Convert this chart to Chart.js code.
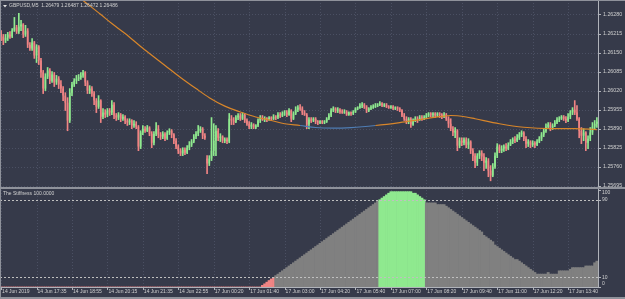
<!DOCTYPE html>
<html><head><meta charset="utf-8">
<script src="https://cdn.jsdelivr.net/npm/chart.js@4.4.1/dist/chart.umd.min.js"></script>
<style>
html,body{margin:0;padding:0;background:#363a4a;}
body{width:625px;height:299px;overflow:hidden;position:relative}
canvas{position:absolute;left:0;display:block}
#main{top:0}
#ind{top:189px}
</style></head><body>
<canvas id="main" width="625" height="189"></canvas>
<canvas id="ind" width="625" height="110"></canvas>
<script>
// ---------------- DATA ----------------
const headerText = "GBPUSD,M5  1.26479 1.26487 1.26472 1.26486";
const indicatorTitle = "The Stiffness 100.0000";
const tickLabels = ["14 Jun 2019","14 Jun 17:35","14 Jun 18:55","14 Jun 20:15","14 Jun 21:35","14 Jun 22:55","17 Jun 00:20","17 Jun 01:40","17 Jun 03:00","17 Jun 04:20","17 Jun 05:40","17 Jun 07:00","17 Jun 08:20","17 Jun 09:40","17 Jun 11:00","17 Jun 12:20","17 Jun 13:40"];
const TICK_EVERY = 16;
const priceTicks = [1.26280,1.26215,1.26150,1.26085,1.26020,1.25955,1.25890,1.25825,1.25760,1.25695];
const PRICE_MIN = 1.256909, PRICE_MAX = 1.263295;
const levelValues = [10, 90];
const levelLabels = [0, 10, 90, 100];

const opens = [
1.26215,1.26205,1.26191,1.26201,1.26212,1.26205,1.26225,1.26236,1.26222,1.26239,
1.26246,1.26212,1.26225,1.26177,1.26164,1.26184,1.26140,1.26171,1.26123,1.26082,
1.26027,1.26068,1.26089,1.26054,1.26075,1.26048,1.26061,1.26041,1.26027,1.26003,
1.25979,1.25918,1.26013,1.26041,1.26054,1.26061,1.26065,1.26072,1.26082,1.26048,
1.26020,1.26027,1.26010,1.25986,1.25965,1.25986,1.25931,1.25945,1.25938,1.25952,
1.25945,1.25972,1.25935,1.25928,1.25938,1.25924,1.25931,1.25918,1.25911,1.25918,
1.25901,1.25907,1.25897,1.25829,1.25877,1.25890,1.25883,1.25894,1.25873,1.25842,
1.25873,1.25890,1.25870,1.25863,1.25873,1.25856,1.25877,1.25883,1.25870,1.25849,
1.25829,1.25815,1.25805,1.25818,1.25808,1.25825,1.25835,1.25846,1.25863,1.25873,
1.25883,1.25890,1.25866,1.25788,1.25771,1.25788,1.25815,1.25849,1.25883,1.25859,
1.25863,1.25849,1.25853,1.25846,1.25924,1.25918,1.25914,1.25928,1.25935,1.25924,
1.25938,1.25918,1.25907,1.25897,1.25904,1.25894,1.25901,1.25918,1.25928,1.25921,
1.25924,1.25921,1.25928,1.25924,1.25931,1.25928,1.25938,1.25935,1.25942,1.25945,
1.25938,1.25952,1.25924,1.25942,1.25955,1.25962,1.25959,1.25945,1.25938,1.25904,
1.25921,1.25918,1.25924,1.25914,1.25911,1.25914,1.25911,1.25914,1.25924,1.25935,
1.25952,1.25959,1.25952,1.25955,1.25948,1.25945,1.25948,1.25938,1.25945,1.25942,
1.25948,1.25959,1.25962,1.25969,1.25972,1.25965,1.25952,1.25959,1.25962,1.25965,
1.25969,1.25972,1.25976,1.25969,1.25972,1.25965,1.25962,1.25965,1.25959,1.25962,
1.25959,1.25952,1.25935,1.25924,1.25914,1.25924,1.25904,1.25918,1.25924,1.25921,
1.25928,1.25924,1.25928,1.25935,1.25942,1.25938,1.25942,1.25935,1.25942,1.25938,
1.25931,1.25938,1.25924,1.25907,1.25890,1.25877,1.25883,1.25832,1.25849,1.25842,
1.25853,1.25835,1.25846,1.25815,1.25798,1.25774,1.25798,1.25808,1.25795,1.25774,
1.25781,1.25747,1.25730,1.25760,1.25798,1.25829,1.25815,1.25822,1.25829,1.25822,
1.25835,1.25846,1.25853,1.25849,1.25859,1.25870,1.25877,1.25856,1.25839,1.25846,
1.25835,1.25842,1.25835,1.25846,1.25856,1.25870,1.25883,1.25897,1.25904,1.25894,
1.25901,1.25911,1.25921,1.25924,1.25931,1.25924,1.25918,1.25931,1.25945,1.25955,
1.25945,1.25924,1.25883,1.25866,1.25877,1.25842,1.25856,1.25877,1.25897,1.25907
];
const closes = [
1.26205,1.26191,1.26201,1.26212,1.26205,1.26225,1.26236,1.26222,1.26239,1.26246,
1.26212,1.26225,1.26177,1.26164,1.26184,1.26140,1.26171,1.26123,1.26082,1.26027,
1.26068,1.26089,1.26054,1.26075,1.26048,1.26061,1.26041,1.26027,1.26003,1.25979,
1.25918,1.26013,1.26041,1.26054,1.26061,1.26065,1.26072,1.26082,1.26048,1.26020,
1.26027,1.26010,1.25986,1.25965,1.25986,1.25931,1.25945,1.25938,1.25952,1.25945,
1.25972,1.25935,1.25928,1.25938,1.25924,1.25931,1.25918,1.25911,1.25918,1.25901,
1.25907,1.25897,1.25829,1.25877,1.25890,1.25883,1.25894,1.25873,1.25842,1.25873,
1.25890,1.25870,1.25863,1.25873,1.25856,1.25877,1.25883,1.25870,1.25849,1.25829,
1.25815,1.25805,1.25818,1.25808,1.25825,1.25835,1.25846,1.25863,1.25873,1.25883,
1.25890,1.25866,1.25859,1.25771,1.25788,1.25815,1.25849,1.25883,1.25859,1.25863,
1.25849,1.25853,1.25846,1.25924,1.25918,1.25914,1.25928,1.25935,1.25924,1.25938,
1.25918,1.25907,1.25897,1.25904,1.25894,1.25901,1.25918,1.25928,1.25921,1.25924,
1.25921,1.25928,1.25924,1.25931,1.25928,1.25938,1.25935,1.25942,1.25945,1.25938,
1.25952,1.25924,1.25942,1.25955,1.25962,1.25959,1.25945,1.25938,1.25904,1.25921,
1.25918,1.25924,1.25914,1.25911,1.25914,1.25911,1.25914,1.25924,1.25935,1.25952,
1.25959,1.25952,1.25955,1.25948,1.25945,1.25948,1.25938,1.25945,1.25942,1.25948,
1.25959,1.25962,1.25969,1.25972,1.25965,1.25952,1.25959,1.25962,1.25965,1.25969,
1.25972,1.25976,1.25969,1.25972,1.25965,1.25962,1.25965,1.25959,1.25962,1.25959,
1.25952,1.25935,1.25924,1.25914,1.25924,1.25904,1.25918,1.25924,1.25921,1.25928,
1.25924,1.25928,1.25935,1.25942,1.25938,1.25942,1.25935,1.25942,1.25938,1.25931,
1.25938,1.25924,1.25907,1.25890,1.25877,1.25883,1.25832,1.25849,1.25842,1.25853,
1.25835,1.25846,1.25815,1.25798,1.25774,1.25798,1.25808,1.25795,1.25774,1.25781,
1.25747,1.25730,1.25760,1.25798,1.25829,1.25815,1.25822,1.25829,1.25822,1.25835,
1.25846,1.25853,1.25849,1.25859,1.25870,1.25877,1.25856,1.25839,1.25846,1.25835,
1.25842,1.25835,1.25846,1.25856,1.25870,1.25883,1.25897,1.25904,1.25894,1.25901,
1.25911,1.25921,1.25924,1.25931,1.25924,1.25918,1.25931,1.25945,1.25955,1.25945,
1.25924,1.25883,1.25866,1.25877,1.25842,1.25856,1.25877,1.25897,1.25907,1.25914
];
const highs = [
1.26225,1.26212,1.26212,1.26219,1.26222,1.26232,1.26270,1.26243,1.26284,1.26260,
1.26249,1.26243,1.26232,1.26184,1.26198,1.26188,1.26177,1.26174,1.26130,1.26089,
1.26078,1.26099,1.26095,1.26085,1.26082,1.26072,1.26068,1.26054,1.26034,1.26013,
1.25996,1.26027,1.26048,1.26061,1.26072,1.26075,1.26082,1.26089,1.26085,1.26054,
1.26037,1.26034,1.26017,1.25993,1.26003,1.25989,1.25959,1.25955,1.25959,1.25959,
1.25986,1.25979,1.25942,1.25945,1.25942,1.25938,1.25935,1.25924,1.25924,1.25921,
1.25918,1.25914,1.25901,1.25883,1.25901,1.25897,1.25901,1.25897,1.25880,1.25880,
1.25911,1.25901,1.25877,1.25880,1.25877,1.25883,1.25890,1.25887,1.25873,1.25856,
1.25835,1.25822,1.25825,1.25825,1.25832,1.25846,1.25853,1.25870,1.25880,1.25901,
1.25897,1.25894,1.25873,1.25798,1.25798,1.25928,1.25907,1.25901,1.25890,1.25873,
1.25866,1.25859,1.25859,1.25942,1.25935,1.25928,1.25935,1.25942,1.25942,1.25945,
1.25942,1.25924,1.25914,1.25911,1.25907,1.25904,1.25924,1.25935,1.25935,1.25931,
1.25928,1.25931,1.25931,1.25938,1.25935,1.25945,1.25945,1.25948,1.25952,1.25952,
1.25959,1.25955,1.25948,1.25965,1.25969,1.25972,1.25965,1.25952,1.25942,1.25928,
1.25928,1.25928,1.25928,1.25918,1.25918,1.25918,1.25918,1.25928,1.25942,1.25959,
1.25965,1.25962,1.25962,1.25959,1.25955,1.25955,1.25952,1.25948,1.25948,1.25952,
1.25962,1.25965,1.25976,1.25979,1.25976,1.25969,1.25962,1.25969,1.25972,1.25976,
1.25976,1.25983,1.25979,1.25976,1.25976,1.25969,1.25969,1.25969,1.25965,1.25965,
1.25962,1.25955,1.25942,1.25931,1.25928,1.25928,1.25924,1.25931,1.25931,1.25935,
1.25935,1.25935,1.25942,1.25945,1.25945,1.25945,1.25945,1.25945,1.25945,1.25942,
1.25945,1.25942,1.25931,1.25924,1.25897,1.25894,1.25887,1.25859,1.25859,1.25859,
1.25859,1.25856,1.25849,1.25822,1.25805,1.25805,1.25815,1.25815,1.25805,1.25791,
1.25788,1.25764,1.25771,1.25808,1.25839,1.25835,1.25832,1.25835,1.25839,1.25842,
1.25853,1.25859,1.25863,1.25870,1.25877,1.25883,1.25880,1.25863,1.25853,1.25849,
1.25849,1.25846,1.25853,1.25863,1.25877,1.25890,1.25907,1.25911,1.25911,1.25907,
1.25918,1.25928,1.25931,1.25935,1.25935,1.25931,1.25942,1.25952,1.25962,1.25986,
1.25969,1.25928,1.25894,1.25890,1.25880,1.25866,1.25894,1.25911,1.25918,1.25928
];
const lows = [
1.26191,1.26177,1.26184,1.26191,1.26198,1.26201,1.26222,1.26215,1.26215,1.26225,
1.26201,1.26205,1.26167,1.26157,1.26157,1.26130,1.26116,1.26109,1.26065,1.26010,
1.26020,1.26061,1.26044,1.26048,1.26034,1.26041,1.26027,1.26013,1.25986,1.25952,
1.25883,1.25911,1.26003,1.26034,1.26044,1.26054,1.26058,1.26065,1.26037,1.26010,
1.26010,1.26000,1.25972,1.25945,1.25959,1.25911,1.25924,1.25928,1.25931,1.25935,
1.25938,1.25924,1.25918,1.25921,1.25914,1.25918,1.25907,1.25901,1.25904,1.25890,
1.25894,1.25890,1.25815,1.25822,1.25870,1.25877,1.25880,1.25866,1.25825,1.25835,
1.25866,1.25859,1.25853,1.25856,1.25849,1.25853,1.25870,1.25859,1.25839,1.25822,
1.25805,1.25798,1.25798,1.25801,1.25805,1.25818,1.25829,1.25842,1.25856,1.25866,
1.25877,1.25856,1.25853,1.25736,1.25764,1.25781,1.25798,1.25798,1.25849,1.25846,
1.25842,1.25842,1.25839,1.25842,1.25904,1.25904,1.25911,1.25921,1.25918,1.25921,
1.25911,1.25901,1.25890,1.25890,1.25890,1.25890,1.25897,1.25911,1.25918,1.25914,
1.25914,1.25918,1.25918,1.25921,1.25921,1.25924,1.25928,1.25931,1.25935,1.25931,
1.25935,1.25914,1.25921,1.25938,1.25948,1.25952,1.25938,1.25935,1.25890,1.25890,
1.25911,1.25914,1.25907,1.25904,1.25907,1.25907,1.25907,1.25911,1.25921,1.25931,
1.25948,1.25945,1.25945,1.25942,1.25942,1.25942,1.25935,1.25935,1.25935,1.25938,
1.25945,1.25955,1.25959,1.25962,1.25959,1.25945,1.25948,1.25955,1.25959,1.25962,
1.25965,1.25969,1.25965,1.25965,1.25962,1.25959,1.25959,1.25955,1.25955,1.25952,
1.25948,1.25931,1.25918,1.25907,1.25907,1.25894,1.25901,1.25914,1.25911,1.25918,
1.25918,1.25921,1.25924,1.25931,1.25931,1.25931,1.25928,1.25931,1.25928,1.25924,
1.25928,1.25918,1.25894,1.25883,1.25866,1.25859,1.25815,1.25825,1.25832,1.25835,
1.25825,1.25822,1.25805,1.25781,1.25757,1.25764,1.25788,1.25781,1.25747,1.25754,
1.25726,1.25712,1.25726,1.25754,1.25791,1.25808,1.25808,1.25812,1.25815,1.25818,
1.25832,1.25839,1.25842,1.25846,1.25853,1.25863,1.25849,1.25825,1.25829,1.25825,
1.25829,1.25825,1.25832,1.25842,1.25849,1.25863,1.25877,1.25890,1.25883,1.25887,
1.25897,1.25907,1.25914,1.25921,1.25918,1.25911,1.25914,1.25924,1.25938,1.25938,
1.25918,1.25859,1.25839,1.25849,1.25815,1.25822,1.25849,1.25870,1.25890,1.25894
];
// moving average, read at selected bars
const maBars   = [37,45,50,56,63,67,74,81,88,94,101,108,115,122,128,135,142,150,158,169,180,189,198,203,210,214,225,236,248,259,269];
const maValues = [1.26328,1.26280,1.26249,1.26215,1.26171,1.26147,1.26106,1.26065,1.26027,1.25996,1.25967,1.25947,1.25930,1.25918,1.25907,1.25901,1.25894,1.25892,1.25894,1.25901,1.25911,1.25921,1.25931,1.25935,1.25930,1.25924,1.25907,1.25895,1.25890,1.25890,1.25887];
const stiffness = [
0,0,0,0,0,0,0,0,0,0, 0,0,0,0,0,0,0,0,0,0, 0,0,0,0,0,0,0,0,0,0, 0,0,0,0,0,0,0,0,0,0,
0,0,0,0,0,0,0,0,0,0, 0,0,0,0,0,0,0,0,0,0, 0,0,0,0,0,0,0,0,0,0, 0,0,0,0,0,0,0,0,0,0,
0,0,0,0,0,0,0,0,0,0, 0,0,0,0,0,0,0,0,0,0, 0,0,0,0,0,0,0,0,0,0, 0,0,0,0,0,0,0,0,
1.7,3.3,5,6.7,8.3,10,
11.7,13.3,15,16.7,18.3,20,21.7,23.3,25,26.7,28.3,30,31.7,33.3,35,36.7,38.3,40,41.7,43.3,45,46.7,48.3,50,51.7,53.3,55,56.7,58.3,60,61.7,63.3,65,66.7,68.3,70,71.7,73.3,75,76.7,78.3,80,81.7,83.3,85,86.7,88.3,
90,91.7,93.3,95,96.7,98.3,98.3,98.3,98.3,98.3,98.3,98.3,98.3,98.3,98.3,96.7,96.7,95,93.3,91.7,90,
86.7,86.7,86.7,86.7,86.7,85,85,85,85,
83.3,81.7,80,78.3,76.7,75,73.3,71.7,70,68.3,66.7,65,63.3,61.7,60,58.3,56.7,53.3,51.7,50,
48.3,46.7,43.3,41.7,40,38.3,36.7,35,33.3,31.7,30,28.3,28.3,26.7,25,23.3,21.7,20,18.3,16.7,
15,13.3,13.3,13.3,13.3,13.3,15,13.3,13.3,13.3,13.3,16.7,16.7,16.7,16.7,16.7,18.3,20,20,20,
20,20,20,21.7,21.7,21.7,21.7,25,26.7
];

// ---------------- STYLE ----------------
const BG='#363a4a', GRID='#4b5063', AXIS='#b0b3ba', TXT='#d0d0d0', GREEN='#8fe98f', RED='#f08484',
      GRAY='#808080', ORANGE='#d8862a', BLUE='#4f7db4', FRAME='#8f929b', LEVEL='#c0c0c0';
const FONT='"Liberation Sans", Arial, sans-serif';
Chart.defaults.font.family = FONT;

const barIdx = closes.map((_, i) => i);
const isUp = i => closes[i] >= opens[i];

const mainDeco = {
  id: 'mainDeco',
  beforeDraw(chart) {
    const {ctx, chartArea: a, scales: {x, y}} = chart;
    ctx.save();
    ctx.fillStyle = BG; ctx.fillRect(0, 0, chart.width, chart.height);
    ctx.strokeStyle = GRID; ctx.lineWidth = 1; ctx.setLineDash([1, 2]);
    priceTicks.forEach(v => {
      const py = Math.round(y.getPixelForValue(v)) + 0.5;
      ctx.beginPath(); ctx.moveTo(a.left, py); ctx.lineTo(a.right, py); ctx.stroke();
    });
    tickLabels.forEach((_, k) => {
      const px = Math.round(x.getPixelForValue(k * TICK_EVERY)) + 0.5;
      ctx.beginPath(); ctx.moveTo(px, a.top); ctx.lineTo(px, a.bottom); ctx.stroke();
    });
    ctx.restore();
  },
  afterDraw(chart) {
    const {ctx, chartArea: a, scales: {y}} = chart;
    ctx.save();
    ctx.fillStyle = AXIS;
    ctx.fillRect(a.right, 0, 1, a.bottom);
    priceTicks.forEach(v => {
      const py = Math.round(y.getPixelForValue(v));
      ctx.fillRect(a.right + 1, py, 2, 1);
    });
    // header
    ctx.fillStyle = '#e0e0e0';
    ctx.beginPath(); ctx.moveTo(3, 5); ctx.lineTo(7, 5); ctx.lineTo(5, 7.5); ctx.closePath(); ctx.fill();
    ctx.font = '5px ' + FONT; ctx.textBaseline = 'middle'; ctx.textAlign = 'left';
    ctx.fillStyle = TXT;
    ctx.fillText(headerText, 9, 6);
    // frame
    ctx.fillStyle = FRAME;
    ctx.fillRect(0, 0, chart.width, 1);
    ctx.fillRect(0, 0, 1, chart.height);
    ctx.fillRect(0, a.bottom, chart.width, 2);
    ctx.restore();
  }
};

new Chart(document.getElementById('main'), {
  type: 'bar',
  data: {
    labels: barIdx,
    datasets: [
      { type: 'line', data: maBars.map((b, k) => ({x: b, y: maValues[k]})),
        borderColor: ORANGE, borderWidth: 1.2, pointRadius: 0, cubicInterpolationMode: 'monotone', order: 0,
        segment: { borderColor: s => (maBars[s.p0DataIndex] >= 135 && maBars[s.p1DataIndex] <= 169) ? BLUE : ORANGE } },
      { data: barIdx.map(i => [lows[i], highs[i]]), backgroundColor: c => isUp(c.dataIndex) ? GREEN : RED,
        barThickness: 1, grouped: false, order: 2 },
      { data: barIdx.map(i => [opens[i], closes[i]]), backgroundColor: c => isUp(c.dataIndex) ? GREEN : RED,
        barPercentage: 0.72, categoryPercentage: 1, grouped: false, minBarLength: 1, order: 1 }
    ]
  },
  options: {
    responsive: false, animation: false, events: [],
    layout: { padding: { left: 0, right: 0, top: 0, bottom: 2 } },
    plugins: { legend: { display: false }, tooltip: { enabled: false } },
    scales: {
      x: { display: false, offset: true },
      y: { position: 'right', min: PRICE_MIN, max: PRICE_MAX,
           afterBuildTicks: s => { s.ticks = priceTicks.map(v => ({ value: v })); },
           afterFit: s => { s.width = 27; s.paddingTop = 0; s.paddingBottom = 0; },
           ticks: { callback: v => Number(v).toFixed(5), color: TXT, font: { size: 5.3 }, padding: 5 },
           grid: { display: false, drawTicks: false }, border: { display: false } }
    }
  },
  plugins: [mainDeco]
});

const indDeco = {
  id: 'indDeco',
  beforeDraw(chart) {
    const {ctx, chartArea: a, scales: {x}} = chart;
    ctx.save();
    ctx.fillStyle = BG; ctx.fillRect(0, 0, chart.width, chart.height);
    ctx.strokeStyle = GRID; ctx.lineWidth = 1; ctx.setLineDash([1, 2]);
    tickLabels.forEach((_, k) => {
      const px = Math.round(x.getPixelForValue(k * TICK_EVERY)) + 0.5;
      ctx.beginPath(); ctx.moveTo(px, a.top); ctx.lineTo(px, a.bottom); ctx.stroke();
    });
    ctx.restore();
  },
  afterDatasetsDraw(chart) {
    const {ctx, chartArea: a, scales: {y}} = chart;
    ctx.save();
    ctx.strokeStyle = LEVEL; ctx.lineWidth = 1; ctx.setLineDash([2, 2]);
    levelValues.forEach(v => {
      const py = Math.round(y.getPixelForValue(v)) + 0.5;
      ctx.beginPath(); ctx.moveTo(a.left, py); ctx.lineTo(a.right, py); ctx.stroke();
    });
    ctx.restore();
  },
  afterDraw(chart) {
    const {ctx, chartArea: a, scales: {x, y}} = chart;
    ctx.save();
    ctx.fillStyle = AXIS;
    ctx.fillRect(a.right, 0, 1, a.bottom + 1);
    ctx.fillRect(0, a.bottom, a.right, 1);
    tickLabels.forEach((_, k) => {
      const px = Math.round(x.getPixelForValue(k * TICK_EVERY));
      ctx.fillRect(px, a.bottom, 1, 3);
    });
    ctx.font = '5px ' + FONT; ctx.textBaseline = 'middle'; ctx.textAlign = 'left'; ctx.fillStyle = TXT;
    levelLabels.forEach(v => {
      const py = y.getPixelForValue(v);
      const ly = Math.min(Math.max(py, a.top + 2.7), a.bottom - 3.7);
      ctx.fillStyle = AXIS; ctx.fillRect(a.right + 1, Math.round(py), 2, 1);
      ctx.fillStyle = TXT; ctx.fillText(String(v), a.right + 4, ly);
    });
    ctx.fillText(indicatorTitle, 3, a.top + 4);
    ctx.fillStyle = FRAME;
    ctx.fillRect(0, 0, 1, chart.height);
    ctx.fillRect(0, chart.height - 2, chart.width, 2);
    ctx.restore();
  }
};

new Chart(document.getElementById('ind'), {
  type: 'bar',
  data: {
    labels: barIdx,
    datasets: [{ data: stiffness,
      backgroundColor: c => c.raw >= levelValues[1] ? GREEN : (c.raw <= levelValues[0] ? RED : GRAY),
      barPercentage: 1, categoryPercentage: 1, borderWidth: 0 }]
  },
  options: {
    responsive: false, animation: false, events: [],
    layout: { padding: { left: 0, right: 27, top: 1, bottom: 0 } },
    plugins: { legend: { display: false }, tooltip: { enabled: false } },
    scales: {
      x: { offset: true, grid: { display: false, drawTicks: false }, border: { display: false },
           afterFit: s => { s.height = 12; s.paddingLeft = 0; s.paddingRight = 0; },
           ticks: { autoSkip: false, maxRotation: 0, minRotation: 0, align: 'start', padding: 2, labelOffset: 1,
                    color: TXT, font: { size: 5 },
                    callback: (v, i) => (i % TICK_EVERY === 0 && tickLabels[i / TICK_EVERY]) ? tickLabels[i / TICK_EVERY] : '' } },
      y: { display: false, min: 0, max: 100 }
    }
  },
  plugins: [indDeco]
});
</script>
</body></html>
